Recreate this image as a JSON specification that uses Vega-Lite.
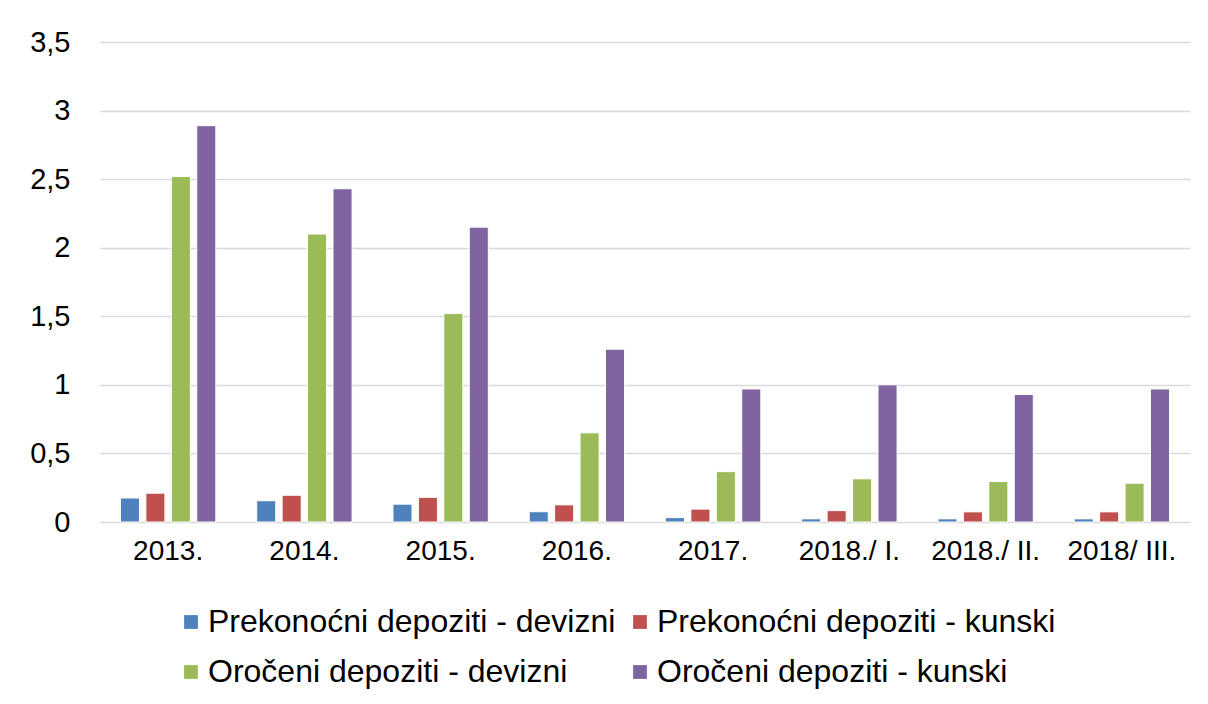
{
  "$schema": "https://vega.github.io/schema/vega-lite/v6.json",
  "autosize": "none",
  "width": 1090,
  "height": 480,
  "padding": {"left": 100, "top": 42, "right": 18, "bottom": 182},
  "background": "white",
  "data": {"values": [
    {"g": "2013.", "s": "Prekonoćni depoziti - devizni", "v": 0.175},
    {"g": "2013.", "s": "Prekonoćni depoziti - kunski", "v": 0.21},
    {"g": "2013.", "s": "Oročeni depoziti - devizni", "v": 2.52},
    {"g": "2013.", "s": "Oročeni depoziti - kunski", "v": 2.89},
    {"g": "2014.", "s": "Prekonoćni depoziti - devizni", "v": 0.155},
    {"g": "2014.", "s": "Prekonoćni depoziti - kunski", "v": 0.195},
    {"g": "2014.", "s": "Oročeni depoziti - devizni", "v": 2.1},
    {"g": "2014.", "s": "Oročeni depoziti - kunski", "v": 2.43},
    {"g": "2015.", "s": "Prekonoćni depoziti - devizni", "v": 0.13},
    {"g": "2015.", "s": "Prekonoćni depoziti - kunski", "v": 0.18},
    {"g": "2015.", "s": "Oročeni depoziti - devizni", "v": 1.52},
    {"g": "2015.", "s": "Oročeni depoziti - kunski", "v": 2.15},
    {"g": "2016.", "s": "Prekonoćni depoziti - devizni", "v": 0.075},
    {"g": "2016.", "s": "Prekonoćni depoziti - kunski", "v": 0.125},
    {"g": "2016.", "s": "Oročeni depoziti - devizni", "v": 0.65},
    {"g": "2016.", "s": "Oročeni depoziti - kunski", "v": 1.26},
    {"g": "2017.", "s": "Prekonoćni depoziti - devizni", "v": 0.032},
    {"g": "2017.", "s": "Prekonoćni depoziti - kunski", "v": 0.094},
    {"g": "2017.", "s": "Oročeni depoziti - devizni", "v": 0.367},
    {"g": "2017.", "s": "Oročeni depoziti - kunski", "v": 0.97},
    {"g": "2018./ I.", "s": "Prekonoćni depoziti - devizni", "v": 0.023},
    {"g": "2018./ I.", "s": "Prekonoćni depoziti - kunski", "v": 0.083},
    {"g": "2018./ I.", "s": "Oročeni depoziti - devizni", "v": 0.315},
    {"g": "2018./ I.", "s": "Oročeni depoziti - kunski", "v": 1.0},
    {"g": "2018./ II.", "s": "Prekonoćni depoziti - devizni", "v": 0.023},
    {"g": "2018./ II.", "s": "Prekonoćni depoziti - kunski", "v": 0.074},
    {"g": "2018./ II.", "s": "Oročeni depoziti - devizni", "v": 0.295},
    {"g": "2018./ II.", "s": "Oročeni depoziti - kunski", "v": 0.93},
    {"g": "2018/ III.", "s": "Prekonoćni depoziti - devizni", "v": 0.023},
    {"g": "2018/ III.", "s": "Prekonoćni depoziti - kunski", "v": 0.074},
    {"g": "2018/ III.", "s": "Oročeni depoziti - devizni", "v": 0.283},
    {"g": "2018/ III.", "s": "Oročeni depoziti - kunski", "v": 0.97}
  ]},
  "mark": {"type": "bar", "stroke": "white", "strokeWidth": 1},
  "encoding": {
    "x": {
      "field": "g", "type": "nominal", "sort": null,
      "scale": {"paddingInner": 0.3, "paddingOuter": 0.15},
      "axis": {"title": null, "labelAngle": 0, "labelFont": "Liberation Sans", "labelFontSize": 28, "labelColor": "black", "labelPadding": 15, "ticks": false, "domain": false, "labelLimit": 300}
    },
    "xOffset": {
      "field": "s", "type": "nominal", "sort": null,
      "scale": {"paddingInner": 0.25, "paddingOuter": 0}
    },
    "y": {
      "field": "v", "type": "quantitative",
      "scale": {"domain": [0, 3.5], "nice": false},
      "axis": {"title": null, "values": [0, 0.5, 1, 1.5, 2, 2.5, 3, 3.5], "format": ",.1~f", "labelExpr": "replace(datum.label, '.', ',')", "labelFont": "Liberation Sans", "labelFontSize": 29, "labelColor": "black", "labelPadding": 30, "ticks": false, "domain": false, "grid": true, "gridColor": "#d9d9d9", "gridWidth": 1.5}
    },
    "color": {
      "field": "s", "type": "nominal", "sort": null,
      "scale": {
        "domain": ["Prekonoćni depoziti - devizni", "Prekonoćni depoziti - kunski", "Oročeni depoziti - devizni", "Oročeni depoziti - kunski"],
        "range": ["#4F81BD", "#C0504D", "#9BBB59", "#8064A2"]
      },
      "legend": {
        "title": null, "orient": "none", "legendX": 75, "legendY": 564, "columns": 2, "direction": "horizontal",
        "symbolType": "square", "symbolSize": 190, "symbolStrokeWidth": 0, "symbolOffset": 0,
        "labelFont": "Liberation Sans", "labelFontSize": 32, "labelColor": "black", "labelLimit": 600, "labelOffset": 1,
        "rowPadding": 18, "columnPadding": 8
      }
    }
  },
  "config": {"view": {"stroke": null}}
}
